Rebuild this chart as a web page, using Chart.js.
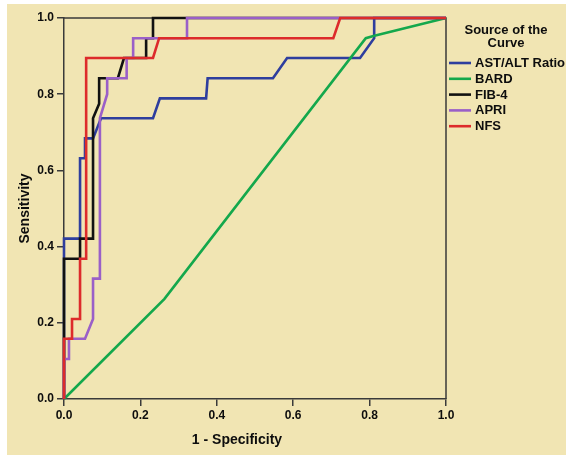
<!DOCTYPE html>
<html>
<head>
<meta charset="utf-8">
<script src="https://cdn.jsdelivr.net/npm/chart.js@4.4.1/dist/chart.umd.min.js"></script>
<style>
  html, body { margin: 0; padding: 0; background: #ffffff; }
  canvas { display: block; }
</style>
</head>
<body>
<canvas id="c" width="566" height="457"></canvas>
<script>
// ---- data ----
const seriesNames = ['AST/ALT Ratio', 'BARD', 'FIB-4', 'APRI', 'NFS'];
const seriesColors = ['#2E3E9E', '#14A84C', '#111111', '#9A5FC8', '#DD2B2B'];

const fprAST = [0, 0, 0.042, 0.042, 0.055, 0.055, 0.076, 0.097, 0.233, 0.251, 0.372, 0.376, 0.547, 0.584, 0.775, 0.812, 0.812, 1];
const tprAST = [0, 0.421, 0.421, 0.632, 0.632, 0.684, 0.684, 0.737, 0.737, 0.789, 0.789, 0.842, 0.842, 0.895, 0.895, 0.947, 1, 1];

const fprBARD = [0, 0.263, 0.79, 0.81, 1];
const tprBARD = [0, 0.263, 0.947, 0.953, 1];

const fprFIB4 = [0, 0, 0.042, 0.042, 0.076, 0.076, 0.092, 0.092, 0.141, 0.157, 0.215, 0.215, 0.233, 0.233, 1];
const tprFIB4 = [0, 0.368, 0.368, 0.421, 0.421, 0.737, 0.775, 0.842, 0.842, 0.895, 0.895, 0.947, 0.947, 1, 1];

const fprAPRI = [0, 0, 0.013, 0.013, 0.055, 0.076, 0.076, 0.094, 0.094, 0.113, 0.113, 0.164, 0.164, 0.181, 0.181, 0.322, 0.322, 1];
const tprAPRI = [0, 0.105, 0.105, 0.158, 0.158, 0.21, 0.316, 0.316, 0.737, 0.80, 0.842, 0.842, 0.895, 0.895, 0.947, 0.947, 1, 1];

const fprNFS = [0, 0, 0.021, 0.021, 0.042, 0.042, 0.058, 0.058, 0.233, 0.249, 0.705, 0.723, 1];
const tprNFS = [0, 0.158, 0.158, 0.21, 0.21, 0.368, 0.368, 0.895, 0.895, 0.947, 0.947, 1, 1];

const tickValues = [0, 0.2, 0.4, 0.6, 0.8, 1.0];
const xTitle = '1 - Specificity';
const yTitle = 'Sensitivity';
const legendTitle = ['Source of the', 'Curve'];

// ---- build ----
const fprs = [fprAST, fprBARD, fprFIB4, fprAPRI, fprNFS];
const tprs = [tprAST, tprBARD, tprFIB4, tprAPRI, tprNFS];
const datasets = seriesNames.map((name, i) => ({
  label: name,
  data: fprs[i].map((x, k) => ({ x: x, y: tprs[i][k] })),
  borderColor: seriesColors[i],
  backgroundColor: seriesColors[i],
  borderWidth: 2.6,
  pointRadius: 0,
  showLine: true,
  tension: 0,
  fill: false,
  clip: false,
  order: seriesNames.length - 1 - i
}));

const FONT = "'Liberation Sans', Arial, sans-serif";
const INK = '#0d0d0d';
const AXIS = '#3a3a3a';
const BG = '#F1E5B3';

const bgPlugin = {
  id: 'bg',
  beforeDraw(chart) {
    const ctx = chart.ctx;
    ctx.save();
    ctx.fillStyle = '#ffffff';
    ctx.fillRect(0, 0, chart.width, chart.height);
    ctx.fillStyle = BG;
    ctx.fillRect(7, 4, chart.width - 7, chart.height - 6);
    ctx.restore();
  },
  beforeDatasetsDraw(chart) {
    const a = chart.chartArea, ctx = chart.ctx;
    ctx.save();
    ctx.strokeStyle = AXIS;
    ctx.lineWidth = 1.5;
    ctx.beginPath();
    ctx.moveTo(a.left, a.top);
    ctx.lineTo(a.right, a.top);
    ctx.lineTo(a.right, a.bottom);
    ctx.stroke();
    ctx.restore();
  },
  afterDraw(chart) {
    const ctx = chart.ctx;
    ctx.save();
    // x axis title
    ctx.fillStyle = INK;
    ctx.font = "bold 14px " + FONT;
    ctx.textAlign = 'center';
    ctx.textBaseline = 'middle';
    ctx.fillText(xTitle, 237, 440);
    // legend
    const lx = 449;
    ctx.font = "bold 13px " + FONT;
    ctx.fillText(legendTitle[0], 506, 30);
    ctx.fillText(legendTitle[1], 506, 43);
    ctx.textAlign = 'left';
    chart.data.datasets.forEach((ds, i) => {
      const y = 63 + 15.8 * i;
      ctx.strokeStyle = ds.borderColor;
      ctx.lineWidth = 2.6;
      ctx.beginPath();
      ctx.moveTo(lx, y);
      ctx.lineTo(lx + 22, y);
      ctx.stroke();
      ctx.fillStyle = INK;
      ctx.fillText(ds.label, lx + 26, y + 0.5);
    });
    ctx.restore();
  }
};

const tickFont = { family: FONT, size: 12, weight: 'bold' };

new Chart(document.getElementById('c'), {
  type: 'scatter',
  data: { datasets: datasets },
  options: {
    responsive: false,
    animation: false,
    devicePixelRatio: 1,
    layout: { padding: { left: 0, top: 18, right: 120, bottom: 0 } },
    plugins: { legend: { display: false }, tooltip: { enabled: false } },
    scales: {
      x: {
        type: 'linear', min: 0, max: 1,
        afterFit(s) { s.height = 58; },
        afterBuildTicks(s) { s.ticks = tickValues.map(v => ({ value: v })); },
        ticks: { font: tickFont, color: INK, padding: 2, maxRotation: 0,
                 callback: v => Number(v).toFixed(1) },
        grid: { drawOnChartArea: false, drawTicks: true, tickLength: 7, color: AXIS, lineWidth: 1.5 },
        border: { display: true, color: AXIS, width: 1.5 },
        title: { display: false }
      },
      y: {
        type: 'linear', min: 0, max: 1,
        afterFit(s) { s.width = 64; },
        afterBuildTicks(s) { s.ticks = tickValues.map(v => ({ value: v })); },
        ticks: { font: tickFont, color: INK, padding: 3,
                 callback: v => Number(v).toFixed(1) },
        grid: { drawOnChartArea: false, drawTicks: true, tickLength: 7, color: AXIS, lineWidth: 1.5 },
        border: { display: true, color: AXIS, width: 1.5 },
        title: { display: true, text: yTitle, color: INK,
                 font: { family: FONT, size: 14, weight: 'bold' },
                 padding: { top: 17, bottom: 0 } }
      }
    }
  },
  plugins: [bgPlugin]
});
</script>
</body>
</html>
